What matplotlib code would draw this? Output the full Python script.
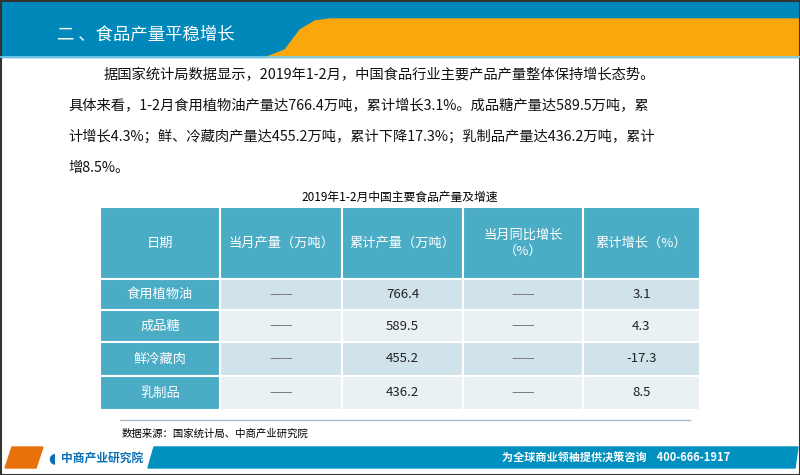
import matplotlib.pyplot as plt
from matplotlib.patches import Rectangle, Polygon

plt.rcParams['font.family'] = ['Noto Sans CJK SC', 'DejaVu Sans']

titulo = '二 、食品产量平稳增长'
parrafo = ['据国家统计局数据显示，2019年1-2月，中国食品行业主要产品产量整体保持增长态势。',
           '具体来看，1-2月食用植物油产量达766.4万吨，累计增长3.1%。成品糖产量达589.5万吨，累',
           '计增长4.3%；鲜、冷藏肉产量达455.2万吨，累计下降17.3%；乳制品产量达436.2万吨，累计',
           '增8.5%。']
tabla_titulo = '2019年1-2月中国主要食品产量及增速'
encabezados = ['日期', '当月产量（万吨）', '累计产量（万吨）', '当月同比增长\n（%）', '累计增长（%）']
productos = ['食用植物油', '成品糖', '鲜冷藏肉', '乳制品']
produccion_acum = ['766.4', '589.5', '455.2', '436.2']
crecimiento_acum = ['3.1', '4.3', '-17.3', '8.5']

fig = plt.figure(figsize=(8, 4.75), dpi=100)
ax = fig.add_axes([0, 0, 1, 1])
ax.set_xlim(0, 800)
ax.set_ylim(475, 0)
ax.axis('off')

# cabecera
ax.add_patch(Rectangle((0, 0), 800, 57, color='#0088BB'))
ax.add_patch(Polygon([(267, 57), (285, 50), (300, 30), (315, 21), (330, 19), (800, 19), (800, 57)],
                     closed=True, color='#FBA70B'))
ax.plot([0, 800], [57, 57], color='#7FD0EE', lw=1.2)
ax.text(57, 35, titulo, color='white', fontsize=12.5, va='center')

# parrafo
ys = [75, 106, 137, 168]
xs = [104, 68, 68, 68]
for t, x, y in zip(parrafo, xs, ys):
    ax.text(x, y, t, fontsize=10.3, va='center', color='#111111')

ax.text(400, 197, tabla_titulo, fontsize=8.5, ha='center', va='center')

# tabla
cols = [100, 220, 342, 463, 583, 700]
filas = [207, 279, 310, 342, 376, 410]
azul = '#4BACC6'
for j, h in enumerate(encabezados):
    ax.add_patch(Rectangle((cols[j], filas[0]), cols[j + 1] - cols[j], filas[1] - filas[0],
                           facecolor=azul, edgecolor='white', lw=1.5))
    ax.text((cols[j] + cols[j + 1]) / 2, (filas[0] + filas[1]) / 2, h, color='white',
            fontsize=9.5, ha='center', va='center', linespacing=1.3)
for i, prod in enumerate(productos):
    y0, y1 = filas[i + 1], filas[i + 2]
    fondo = '#D0E3EA' if i % 2 == 0 else '#E9F1F5'
    valores = [prod, '——', produccion_acum[i], '——', crecimiento_acum[i]]
    for j, v in enumerate(valores):
        ax.add_patch(Rectangle((cols[j], y0), cols[j + 1] - cols[j], y1 - y0,
                               facecolor=azul if j == 0 else fondo, edgecolor='white', lw=1.5))
        ax.text((cols[j] + cols[j + 1]) / 2, (y0 + y1) / 2, v,
                color='white' if j == 0 else ('#777777' if v == '——' else '#222222'),
                fontsize=9.5, ha='center', va='center')

ax.plot([120, 690], [420, 420], color='#A9B8C8', lw=1)
ax.text(122, 434, '数据来源：国家统计局、中商产业研究院', fontsize=7.5, va='center')

# pie
ax.add_patch(Polygon([(5, 468), (12, 447), (43, 447), (36, 468)], closed=True, color='#E8710A'))
ax.add_patch(Polygon([(148, 468), (154, 447), (798, 447), (795, 468)], closed=True, color='#0090C0'))
ax.text(48, 458, '◖', color='#0A6FB5', fontsize=10, va='center')
ax.text(61, 458, '中商产业研究院', color='#0A6FB5', fontsize=8.5, va='center', fontweight='bold')
ax.text(730, 458, '为全球商业领袖提供决策咨询    400-666-1917', color='white', fontsize=8,
        ha='right', va='center', fontweight='bold')

ax.add_patch(Rectangle((0.5, 0.5), 799, 474, fill=False, edgecolor='#333333', lw=1.5))

fig.savefig('out.png', dpi=100)
